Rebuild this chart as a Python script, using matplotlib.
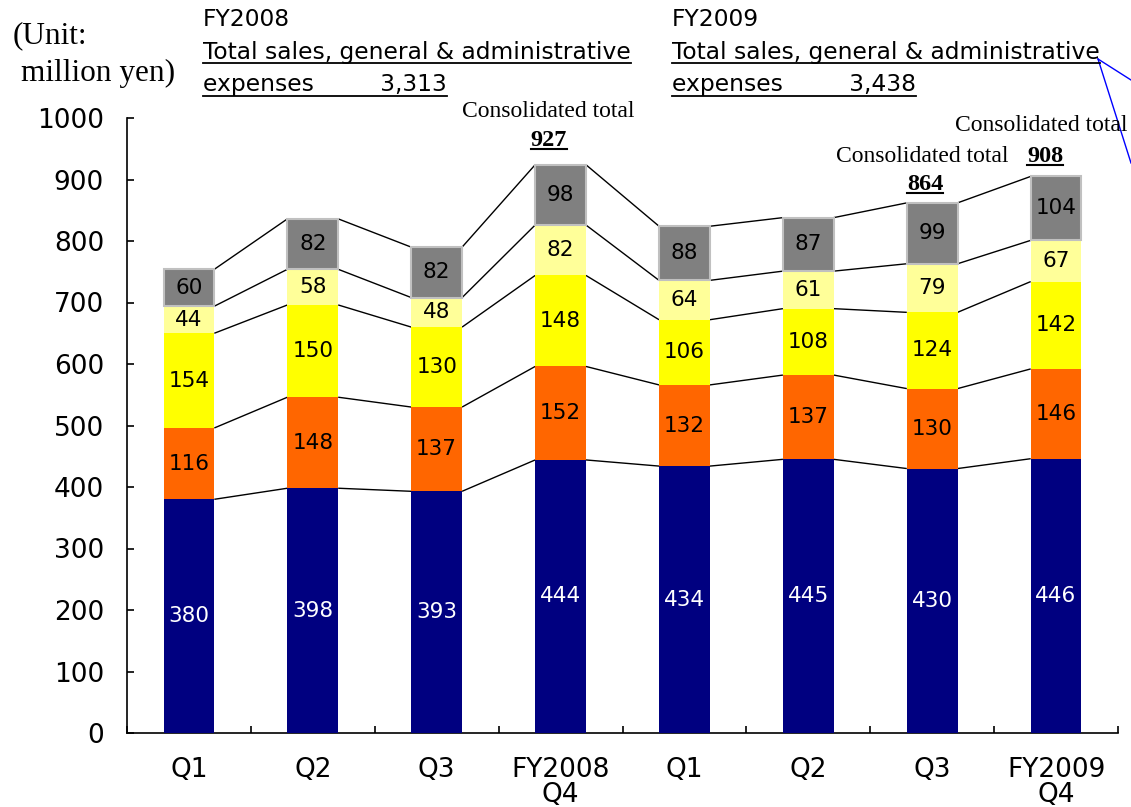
import matplotlib
matplotlib.use('Agg')
import matplotlib.pyplot as plt
import numpy as np
from matplotlib.lines import Line2D

# ---------------- data ----------------
categories = ['Q1', 'Q2', 'Q3', 'FY2008\nQ4', 'Q1', 'Q2', 'Q3', 'FY2009\nQ4']
navy_vals = [380, 398, 393, 444, 434, 445, 430, 446]
orange_vals = [116, 148, 137, 152, 132, 137, 130, 146]
yellow_vals = [154, 150, 130, 148, 106, 108, 124, 142]
lightyellow_vals = [44, 58, 48, 82, 64, 61, 79, 67]
grey_vals = [60, 82, 82, 98, 88, 87, 99, 104]
yticks = list(range(0, 1001, 100))

total_labels = ['927', '864', '908']
header_years = ['FY2008', 'FY2009']
header_totals = ['3,313', '3,438']

series = [navy_vals, orange_vals, yellow_vals, lightyellow_vals, grey_vals]
colors = ['#000080', '#FF6600', '#FFFF00', '#FFFF99', '#808080']
edgecolors = ['#000080', '#FF6600', '#FFFF00', '#FFFF99', '#C0C0C0']
edgewidths = [0, 0, 0, 0, 1.5]
label_colors = ['white', 'black', 'black', 'black', 'black']

W, H = 1131, 807
fig = plt.figure(figsize=(W / 100, H / 100), dpi=100)
fig.patch.set_facecolor('white')


def fx(x):
    return x / W


def fy(y):
    return 1 - y / H


ax = fig.add_axes([fx(127), fy(733), (1118 - 127) / W, (733 - 118) / H])
x = np.arange(len(categories))
bw = 0.41
bottom = np.zeros(len(categories))
tops = []
for vals, c, ec, ew, lc in zip(series, colors, edgecolors, edgewidths, label_colors):
    vals = np.array(vals, dtype=float)
    ax.bar(x, vals, bw, bottom=bottom, color=c, edgecolor=ec, linewidth=ew, zorder=3)
    for xi, b, v in zip(x, bottom, vals):
        ax.text(xi, b + v / 2, str(int(v)), ha='center', va='center', color=lc,
                fontsize=15.5, family='DejaVu Sans', zorder=4)
    bottom = bottom + vals
    tops.append(bottom.copy())

for lvl in tops:
    for i in range(len(x) - 1):
        ax.plot([x[i] + bw / 2, x[i + 1] - bw / 2], [lvl[i], lvl[i + 1]],
                color='black', lw=1, zorder=2, solid_capstyle='butt')

ax.set_xlim(-0.5, len(categories) - 0.5)
ax.set_ylim(0, 1000)
for s in ['top', 'right']:
    ax.spines[s].set_visible(False)
ax.spines['left'].set_linewidth(1.2)
ax.spines['bottom'].set_linewidth(1.2)
ax.set_yticks(yticks)
ax.set_yticklabels([str(v) for v in yticks], fontsize=19, family='DejaVu Sans')
ax.tick_params(axis='y', direction='in', length=5, width=1.2, pad=16.5)
ax.set_xticks(x)
ax.set_xticklabels(categories, fontsize=19, family='DejaVu Sans', linespacing=0.97)
ax.set_xticks(np.arange(-0.5, len(categories)), minor=True)
ax.tick_params(axis='x', which='major', length=0, pad=17)
ax.tick_params(axis='x', which='minor', direction='in', length=5, width=1.2)

# ---------------- texts ----------------
serif = 'Liberation Serif'
fig.text(fx(13), fy(43), '(Unit:', family=serif, fontsize=22.5, va='baseline')
fig.text(fx(21), fy(81), 'million yen)', family=serif, fontsize=22.5, va='baseline')

underlines = []
for hx, yr, tot in zip([203, 672], header_years, header_totals):
    fig.text(fx(hx), fy(26), yr, fontsize=16.8, family='DejaVu Sans', va='baseline')
    t2 = fig.text(fx(hx), fy(59), 'Total sales, general & administrative', fontsize=16.8,
                  family='DejaVu Sans', va='baseline')
    t3 = fig.text(fx(hx), fy(91), 'expenses         ' + tot, fontsize=16.8,
                  family='DejaVu Sans', va='baseline')
    underlines.append((t2, 63, 1.3))
    underlines.append((t3, 96, 1.3))

# consolidated totals
cons_pos = [(548, 117), (922, 162), (1043, 131)]
num_pos = [(549, 146), (925, 190), (1045, 162)]
for (cx, cy), (nx, ny), lab in zip(cons_pos, num_pos, total_labels):
    if cx > 1000:
        fig.text(fx(955), fy(cy), 'Consolidated total', family=serif, fontsize=17,
                 ha='left', va='baseline')
    else:
        fig.text(fx(cx), fy(cy), 'Consolidated total', family=serif, fontsize=17,
                 ha='center', va='baseline')
    tn = fig.text(fx(nx), fy(ny), lab, family=serif, fontsize=17.5, fontweight='bold',
                  ha='center', va='baseline')
    underlines.append((tn, ny + 3, 1.5))

# blue callout lines
fig.add_artist(Line2D([fx(1098), fx(1131)], [fy(59), fy(80)], color='#0000FF', lw=1))
fig.add_artist(Line2D([fx(1098), fx(1131)], [fy(59), fy(163)], color='#0000FF', lw=1))

fig.canvas.draw()
r = fig.canvas.get_renderer()
for t, uy, lw in underlines:
    bb = t.get_window_extent(renderer=r)
    fig.add_artist(Line2D([bb.x0 / W, bb.x1 / W], [fy(uy), fy(uy)], color='black', lw=lw))

fig.savefig('out.png', dpi=100, facecolor='white')
